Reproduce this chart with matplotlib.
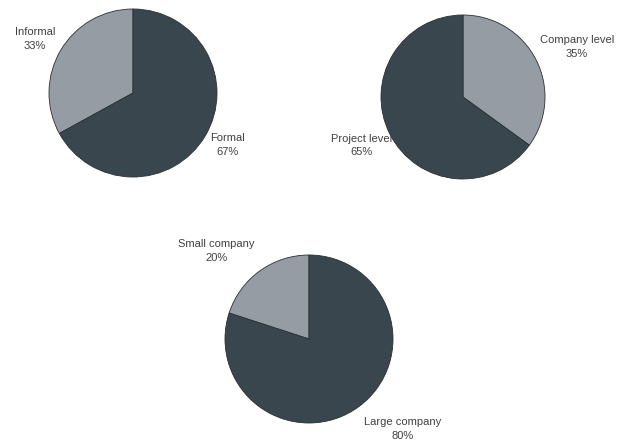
import matplotlib.pyplot as plt

plt.rcParams['font.family'] = ['Liberation Sans', 'DejaVu Sans']

# data
type_labels = ['Informal', 'Formal']
type_values = [33, 67]
level_labels = ['Company level', 'Project level']
level_values = [35, 65]
size_labels = ['Small company', 'Large company']
size_values = [20, 80]

dark = '#3a464d'
light = '#959ca3'
W, H = 626, 442
L = 1.6

fig = plt.figure(figsize=(W / 100, H / 100), dpi=100)


def pie_at(cx, cy, r, values, labels, counterclock, label_pos):
    ax = fig.add_axes([(cx - L * r) / W, (H - cy - L * r) / H, 2 * L * r / W, 2 * L * r / H])
    ax.pie(values, colors=[light, dark], startangle=90, counterclock=counterclock,
           wedgeprops=dict(edgecolor='#2a2f33', linewidth=0.6))
    for lab, val, (x, y) in zip(labels, values, label_pos):
        ax.text(x, y, f'{lab}\n{val}%', ha='center', va='center', fontsize=8,
                color='#404040', linespacing=1.45, clip_on=False)
    ax.set_xlim(-L, L)
    ax.set_ylim(-L, L)
    ax.set_aspect('equal')
    ax.axis('off')


pie_at(133, 93, 84, type_values, type_labels, True, [(-1.17, 0.64), (1.12, -0.62)])
pie_at(463, 97, 82, level_values, level_labels, False, [(1.39, 0.61), (-1.24, -0.59)])
pie_at(309, 339, 84, size_values, size_labels, True, [(-1.10, 1.05), (1.11, -1.07)])

fig.savefig('out.png', dpi=100)
